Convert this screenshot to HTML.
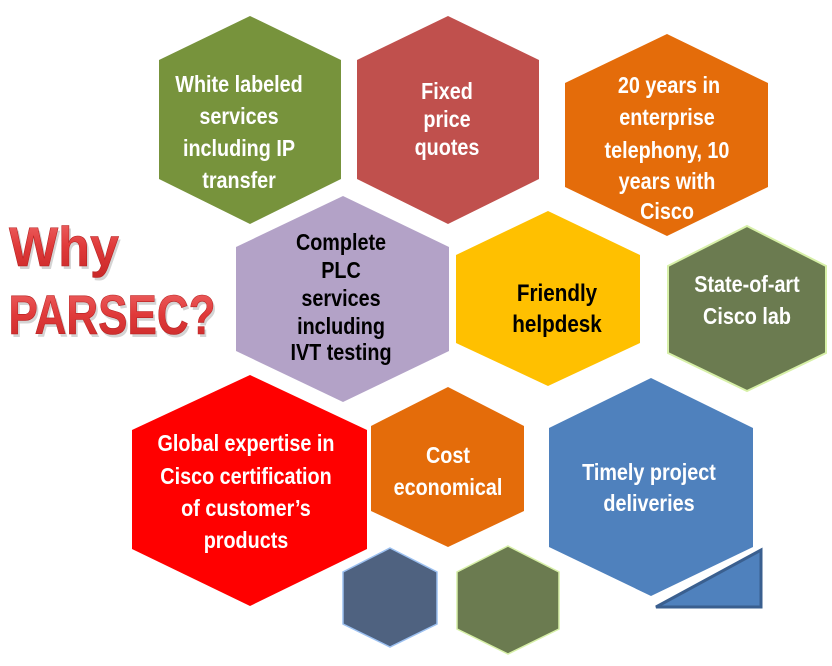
<!DOCTYPE html>
<html><head><meta charset="utf-8"><style>
html,body{margin:0;padding:0;background:#fff;}
svg{display:block}
text{font-family:"Liberation Sans Narrow","Liberation Sans",Arial,sans-serif;font-weight:bold;text-anchor:middle;}
.w text,.b text{transform-box:fill-box;transform-origin:center;transform:scaleX(0.86);}
.w{fill:#fff;font-size:23px}
.b{fill:#000;font-size:23px}
</style></head><body>
<svg width="832" height="666" viewBox="0 0 832 666" xmlns="http://www.w3.org/2000/svg">
<defs>
<linearGradient id="rg" x1="0" y1="0" x2="0" y2="1">
<stop offset="0" stop-color="#f06a6a"/><stop offset="0.5" stop-color="#e03a3a"/><stop offset="1" stop-color="#c82828"/>
</linearGradient>
</defs>
<polygon points="250,16 341,60 341,179 250,224 159,179 159,60" fill="#77933c"/>
<polygon points="448,16 539,60 539,179 448,224 357,179 357,60" fill="#c0504d"/>
<polygon points="667,34 768,83 768,187 667,236 565,187 565,83" fill="#e46c0a"/>
<polygon points="343,196 449,247 449,351 343,402 236,351 236,247" fill="#b3a2c7"/>
<polygon points="548,211 640,255 640,343 548,386 456,343 456,255" fill="#ffc000"/>
<polygon points="747,226 826,266 826,353 747,391 668,353 668,266" fill="#6b7b50" stroke="#d7f0a8" stroke-width="2"/>
<polygon points="250,375 367,430 367,549 250,606 132,549 132,430" fill="#ff0000"/>
<polygon points="448,387 524,426 524,511 448,547 371,511 371,426" fill="#e46c0a"/>
<polygon points="651,378 753,428 753,547 651,596 549,547 549,428" fill="#4f81bd"/>
<polygon points="390,548 437,572 437,624 390,647 343,624 343,572" fill="#4f6280" stroke="#9cc0f0" stroke-width="1.5"/>
<polygon points="508,546 559,572 559,629 508,654 457,629 457,572" fill="#6b7b50" stroke="#d7f0a8" stroke-width="1.5"/>
<polygon points="656,607 761,550 761,607" fill="#4f81bd" stroke="#3a5f8f" stroke-width="3"/>
<g style="font-size:56px">
<text x="64" y="266" textLength="110" lengthAdjust="spacingAndGlyphs" fill="#aaa" opacity="0.5" transform="translate(2,3)">Why</text>
<text x="64" y="266" textLength="110" lengthAdjust="spacingAndGlyphs" fill="url(#rg)" stroke="#b52020" stroke-width="0.6">Why</text>
<text x="112" y="334" textLength="207" lengthAdjust="spacingAndGlyphs" fill="#aaa" opacity="0.5" transform="translate(2,3)">PARSEC?</text>
<text x="112" y="334" textLength="207" lengthAdjust="spacingAndGlyphs" fill="url(#rg)" stroke="#b52020" stroke-width="0.6">PARSEC?</text>
</g>
<g class="w">
<text x="239" y="92">White labeled</text>
<text x="239" y="124">services</text>
<text x="239" y="156">including IP</text>
<text x="239" y="188">transfer</text>
</g>
<g class="w">
<text x="447" y="99">Fixed</text>
<text x="447" y="127">price</text>
<text x="447" y="155">quotes</text>
</g>
<g class="w">
<text x="669" y="93">20 years in</text>
<text x="667" y="125">enterprise</text>
<text x="667" y="158">telephony, 10</text>
<text x="667" y="189">years with</text>
<text x="667" y="219">Cisco</text>
</g>
<g class="b">
<text x="341" y="250">Complete</text>
<text x="341" y="278">PLC</text>
<text x="341" y="306">services</text>
<text x="341" y="334">including</text>
<text x="341" y="360">IVT testing</text>
</g>
<g class="b" style="font-size:24px">
<text x="557" y="301">Friendly</text>
<text x="557" y="332">helpdesk</text>
</g>
<g class="w">
<text x="747" y="292">State-of-art</text>
<text x="747" y="324">Cisco  lab</text>
</g>
<g class="w">
<text x="246" y="451">Global expertise in</text>
<text x="246" y="484">Cisco certification</text>
<text x="246" y="516">of customer’s</text>
<text x="246" y="548">products</text>
</g>
<g class="w">
<text x="448" y="463">Cost</text>
<text x="448" y="495">economical</text>
</g>
<g class="w">
<text x="649" y="480">Timely project</text>
<text x="649" y="511">deliveries</text>
</g>
</svg>
</body></html>
